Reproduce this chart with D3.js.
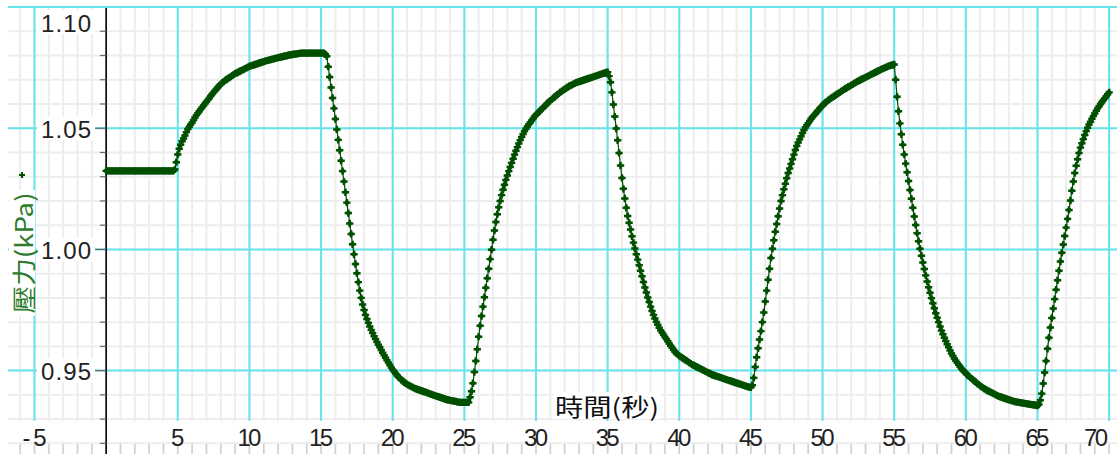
<!DOCTYPE html>
<html>
<head>
<meta charset="utf-8">
<script src="https://cdn.jsdelivr.net/npm/d3@7"></script>
<style>
body { margin: 0; background: #fff; overflow: hidden; }
</style>
</head>
<body>
<div id="chart"></div>
<script>
// sampled every 0.1 s starting at t = 0
var t0 = 0, dt = 0.1;

var baseline = [1.0324,1.0324,1.0324,1.0324,1.0324,1.0324,1.0324,1.0324,1.0324,1.0324,
  1.0324,1.0324,1.0324,1.0324,1.0324,1.0324,1.0324,1.0324,1.0324,1.0324,
  1.0324,1.0324,1.0324,1.0324,1.0324,1.0324,1.0324,1.0324,1.0324,1.0324,
  1.0324,1.0324,1.0324,1.0324,1.0324,1.0324,1.0324,1.0324,1.0324,1.0324,
  1.0324,1.0324,1.0324,1.0324,1.0324,1.0324,1.0324,1.0324];
var rise1 = [1.0330,1.0360,1.0392,1.0415,1.0432,1.0446,1.0458,1.0470,1.0484,1.0497,1.0506,1.0515,
  1.0524,1.0534,1.0544,1.0554,1.0562,1.0570,1.0578,1.0586,1.0594,1.0602,1.0609,
  1.0617,1.0625,1.0633,1.0641,1.0648,1.0655,1.0662,1.0669,1.0676,
  1.0682,1.0687,1.0692,1.0697,1.0701,1.0705,1.0709,1.0713,1.0717,1.0721,
  1.0725,1.0728,1.0731,1.0734,1.0737,1.0740,1.0743,1.0746,1.0749,1.0752,
  1.0755,1.0757,1.0759,1.0761,1.0763,1.0765,1.0767,1.0769,1.0771,1.0773,
  1.0775,1.0777,1.0779,1.0780,1.0782,1.0783,1.0785,1.0786,1.0788,1.0789,
  1.0791,1.0792,1.0794,1.0795,1.0797,1.0798,1.0799,1.0801,1.0802,1.0803,
  1.0804,1.0805,1.0806,1.0807,1.0808,1.0809,
  1.0810,1.0810,1.0810,1.0810,1.0810,1.0810,1.0810,1.0810,1.0810,1.0810,
  1.0810,1.0810,1.0810,1.0810,1.0810,1.0810,1.0810,1.0805];
var fall1 = [1.0797,1.0754,1.0711,1.0668,1.0625,1.0582,
  1.0538,1.0495,1.0452,1.0409,1.0366,1.0323,1.0280,1.0236,1.0193,1.0150,
  1.0107,1.0064,1.0021,0.9980,0.9940,0.9902,0.9865,0.9830,0.9800,0.9773,
  0.9750,0.9730,0.9713,0.9697,0.9682,0.9668,0.9655,0.9642,0.9630,0.9618,
  0.9607,0.9596,0.9585,0.9574,0.9563,0.9553,0.9543,0.9533,0.9523,0.9513,
  0.9504,0.9496,0.9488,0.9481,0.9474,0.9468,0.9462,0.9457,0.9452,0.9448,
  0.9444,0.9440,0.9437,0.9434,0.9431,0.9428,0.9425,0.9423,0.9421,0.9419,
  0.9417,0.9415,0.9413,0.9411,0.9409,0.9406,0.9404,0.9402,0.9400,0.9398,
  0.9396,0.9394,0.9392,0.9390,0.9388,0.9386,0.9384,0.9382,0.9380,0.9379,
  0.9377,0.9376,0.9375,0.9374,0.9373,0.9371,0.9370,0.9369,0.9369,0.9369,
  0.9369,0.9369,0.9369,0.9369];
var rise2 = [0.9390,0.9415,0.9448,0.9494,0.9540,0.9588,
  0.9640,0.9685,0.9725,0.9764,0.9803,0.9842,0.9881,0.9920,0.9960,0.9999,
  1.0040,1.0078,1.0113,1.0145,1.0174,1.0200,1.0224,1.0246,1.0267,1.0287,
  1.0305,1.0323,1.0340,1.0357,1.0374,1.0391,1.0407,1.0422,1.0437,1.0451,
  1.0464,1.0476,1.0488,1.0498,1.0507,1.0516,1.0524,1.0532,1.0540,1.0548,
  1.0555,1.0561,1.0567,1.0573,1.0579,1.0585,1.0591,1.0597,1.0603,1.0609,
  1.0614,1.0619,1.0624,1.0629,1.0634,1.0639,1.0644,1.0649,1.0653,1.0657,
  1.0661,1.0665,1.0669,1.0673,1.0676,1.0679,1.0682,1.0685,1.0688,1.0690,
  1.0692,1.0694,1.0696,1.0698,1.0700,1.0702,1.0704,1.0706,1.0708,1.0710,
  1.0712,1.0714,1.0716,1.0718,1.0720,1.0722,1.0724,1.0726,1.0728,1.0730,
  1.0731];
var fall2 = [1.0715,1.0690,1.0648,1.0598,1.0548,1.0499,1.0450,1.0398,1.0346,
  1.0295,1.0250,1.0210,1.0172,1.0138,1.0110,1.0082,1.0054,1.0028,1.0004,
  0.9980,0.9958,0.9935,0.9912,0.9889,0.9866,0.9843,0.9822,0.9802,0.9783,
  0.9764,0.9746,0.9730,0.9715,0.9701,0.9689,0.9677,0.9666,0.9657,0.9648,
  0.9639,0.9630,0.9621,0.9612,0.9603,0.9594,0.9586,0.9578,0.9571,0.9566,
  0.9561,0.9557,0.9553,0.9549,0.9545,0.9541,0.9537,0.9533,0.9529,0.9525,
  0.9522,0.9519,0.9516,0.9513,0.9510,0.9507,0.9504,0.9501,0.9498,0.9495,
  0.9492,0.9489,0.9486,0.9483,0.9481,0.9479,0.9477,0.9475,0.9473,0.9471,
  0.9469,0.9467,0.9465,0.9463,0.9461,0.9459,0.9457,0.9455,0.9453,0.9451,
  0.9449,0.9447,0.9445,0.9443,0.9441,0.9439,0.9437,0.9435,0.9433,0.9432,
  0.9431];
var rise3 = [0.9440,0.9470,0.9515,0.9555,0.9592,0.9628,0.9663,0.9700,0.9740,
  0.9785,0.9830,0.9875,0.9920,0.9965,1.0003,1.0038,1.0073,1.0105,1.0137,
  1.0169,1.0200,1.0224,1.0248,1.0271,1.0294,1.0315,1.0334,1.0353,1.0372,
  1.0391,1.0410,1.0427,1.0441,1.0454,1.0467,1.0480,1.0493,1.0503,1.0512,
  1.0521,1.0530,1.0539,1.0546,1.0553,1.0560,1.0567,1.0574,1.0581,1.0588,
  1.0594,1.0600,1.0606,1.0611,1.0616,1.0620,1.0624,1.0628,1.0632,1.0636,
  1.0640,1.0644,1.0648,1.0652,1.0656,1.0660,1.0664,1.0667,1.0671,1.0674,
  1.0678,1.0681,1.0685,1.0688,1.0692,1.0695,1.0698,1.0701,1.0704,1.0707,
  1.0710,1.0713,1.0716,1.0719,1.0722,1.0725,1.0728,1.0731,1.0734,1.0737,
  1.0740,1.0743,1.0746,1.0748,1.0751,1.0753,1.0756,1.0758,1.0760,1.0762,
  1.0763];
var fall3 = [1.0700,1.0630,1.0570,1.0520,1.0475,1.0432,1.0392,1.0354,1.0318,
  1.0282,1.0245,1.0209,1.0172,1.0136,1.0101,1.0067,1.0034,1.0003,0.9974,
  0.9946,0.9919,0.9893,0.9868,0.9844,0.9821,0.9799,0.9778,0.9757,0.9737,
  0.9718,0.9700,0.9682,0.9665,0.9650,0.9636,0.9622,0.9609,0.9596,0.9583,
  0.9571,0.9560,0.9550,0.9541,0.9532,0.9524,0.9516,0.9508,0.9501,0.9495,
  0.9489,0.9483,0.9477,0.9472,0.9467,0.9462,0.9457,0.9452,0.9447,0.9442,
  0.9437,0.9433,0.9429,0.9425,0.9421,0.9418,0.9415,0.9412,0.9409,0.9406,
  0.9403,0.9400,0.9397,0.9394,0.9392,0.9390,0.9388,0.9386,0.9384,0.9382,
  0.9380,0.9378,0.9376,0.9374,0.9372,0.9371,0.9370,0.9369,0.9368,0.9367,
  0.9366,0.9365,0.9364,0.9363,0.9362,0.9361,0.9360,0.9359,0.9358,0.9357,
  0.9356,0.9360];
var rise4 = [0.9378,0.9405,0.9447,0.9492,0.9540,0.9590,0.9636,0.9678,
  0.9717,0.9756,0.9795,0.9834,0.9873,0.9912,0.9950,0.9986,1.0020,1.0055,
  1.0090,1.0126,1.0163,1.0202,1.0242,1.0280,1.0315,1.0345,1.0372,1.0398,
  1.0420,1.0438,1.0455,1.0472,1.0488,1.0502,1.0515,1.0527,1.0539,1.0550,
  1.0561,1.0572,1.0582,1.0591,1.0600,1.0608,1.0616,1.0624,1.0632,1.0640,
  1.0648];

var xTicks = [-5, 5, 10, 15, 20, 25, 30, 35, 40, 45, 50, 55, 60, 65, 70];
var yTicks = [0.95, 1.00, 1.05, 1.10];
var xTitle = "時間(秒)";
var yTitle = "壓力(kPa)";

var pressure = [].concat(baseline, rise1, fall1, rise2, fall2, rise3, fall3, rise4);
var data = pressure.map(function(v, i) { return {t: t0 + i * dt, v: v}; });

var width = 1117, height = 454;
var svg = d3.select("#chart").append("svg")
  .attr("width", width).attr("height", height)
  .style("display", "block");

var x = d3.scaleLinear().domain([-6.85, 70.55]).range([8, 1117]);
var y = d3.scaleLinear().domain([0.9156, 1.0996]).range([454, 8]);

var tickFont = "'Liberation Sans', Arial, sans-serif";
var cjkFont = "'Noto Sans CJK TC', 'Noto Sans CJK SC', sans-serif";
var cyan = "#66e4ec", minor = "#ededed", green = "#005000";

// minor grid, 1 s and 0.01 kPa
var gx = d3.range(-6, 71, 1), gy = d3.range(92, 110, 1).map(function(d) { return d / 100; });
svg.append("g").selectAll("line").data(gx).join("line")
  .attr("x1", function(d) { return x(d); }).attr("x2", function(d) { return x(d); })
  .attr("y1", 8).attr("y2", height)
  .attr("stroke", minor).attr("stroke-width", 2);
svg.append("g").selectAll("line").data(gy).join("line")
  .attr("x1", 8).attr("x2", width)
  .attr("y1", function(d) { return y(d); }).attr("y2", function(d) { return y(d); })
  .attr("stroke", minor).attr("stroke-width", 2);

// major grid
svg.append("g").selectAll("line").data(xTicks).join("line")
  .attr("x1", function(d) { return x(d); }).attr("x2", function(d) { return x(d); })
  .attr("y1", 8).attr("y2", 422)
  .attr("stroke", cyan).attr("stroke-width", 2);
svg.append("g").selectAll("line").data(yTicks).join("line")
  .attr("x1", 8).attr("x2", width)
  .attr("y1", function(d) { return y(d); }).attr("y2", function(d) { return y(d); })
  .attr("stroke", cyan).attr("stroke-width", 2);

// band behind the time labels
svg.append("rect").attr("x", 0).attr("y", 421).attr("width", width).attr("height", 20.5)
  .attr("fill", "#fff");

// bottom tick marks
svg.append("g").selectAll("line").data(gx).join("line")
  .attr("x1", function(d) { return x(d); }).attr("x2", function(d) { return x(d); })
  .attr("y1", 444).attr("y2", height)
  .attr("stroke", "#d0d0d0").attr("stroke-width", 1.5);

// x tick labels (kept inside the right edge)
var xl = svg.append("g");
xTicks.forEach(function(d) {
  var s = String(d);
  xl.append("text")
    .attr("x", Math.min(x(d), width - 21)).attr("y", 437)
    .attr("text-anchor", "middle").attr("dominant-baseline", "central")
    .attr("font-family", tickFont).attr("font-size", 24)
    .attr("fill", "#222")
    .attr("textLength", s.length * 12).attr("lengthAdjust", "spacing")
    .text(s);
});

// y tick labels with white boxes
var yl = svg.append("g");
yTicks.forEach(function(d) {
  var cy = Math.max(y(d), 22);
  yl.append("rect").attr("x", 37).attr("y", cy - 12).attr("width", 58).attr("height", 24)
    .attr("fill", "#fff");
  yl.append("text")
    .attr("x", 91).attr("y", cy + 1)
    .attr("text-anchor", "end").attr("dominant-baseline", "central")
    .attr("font-family", tickFont).attr("font-size", 24)
    .attr("fill", "#222")
    .attr("textLength", 50).attr("lengthAdjust", "spacing")
    .text(d.toFixed(2));
});

// y axis line and ticks
svg.append("line").attr("x1", x(0)).attr("x2", x(0)).attr("y1", 8).attr("y2", height)
  .attr("stroke", "#000").attr("stroke-width", 1.6);
svg.append("g").selectAll("line").data(gy).join("line")
  .attr("x1", function(d) { return Math.abs(d * 20 - Math.round(d * 20)) < 1e-6 ? x(0) - 11 : x(0) - 6; })
  .attr("x2", x(0))
  .attr("y1", function(d) { return y(d); }).attr("y2", function(d) { return y(d); })
  .attr("stroke", "#666").attr("stroke-width", 1.2);

// axis titles
svg.append("rect").attr("x", 553).attr("y", 392).attr("width", 108).attr("height", 27).attr("fill", "#fff");
svg.append("text")
  .attr("x", 607).attr("y", 405)
  .attr("text-anchor", "middle").attr("dominant-baseline", "central")
  .attr("font-family", cjkFont).attr("font-size", 24).attr("fill", "#111")
  .attr("textLength", 104).attr("lengthAdjust", "spacingAndGlyphs")
  .text(xTitle);

svg.append("rect").attr("x", 9).attr("y", 190).attr("width", 26).attr("height", 126).attr("fill", "#fff");
svg.append("text")
  .attr("transform", "translate(22,253) rotate(-90)")
  .attr("text-anchor", "middle").attr("dominant-baseline", "central")
  .attr("font-family", cjkFont).attr("font-size", 24).attr("fill", "#2e7b2e")
  .attr("textLength", 121).attr("lengthAdjust", "spacingAndGlyphs")
  .text(yTitle);

// series: thin line through round-ish cross markers
var line = d3.line().x(function(d) { return x(d.t); }).y(function(d) { return y(d.v); });
svg.append("path").datum(data)
  .attr("d", line).attr("fill", "none")
  .attr("stroke", green).attr("stroke-width", 1.2);

var sym = d3.symbol().type(d3.symbolCross).size(30);
var marks = svg.append("g").selectAll("g").data(data).join("g")
  .attr("transform", function(d) { return "translate(" + x(d.t) + "," + y(d.v) + ")"; });
marks.append("path").attr("d", sym).attr("fill", green);
marks.append("circle").attr("r", 2.3).attr("fill", green);

// legend marker beside the y title
var lg = svg.append("g").attr("transform", "translate(22,175)");
lg.append("path").attr("d", d3.symbol().type(d3.symbolCross).size(20)).attr("fill", green);
lg.append("circle").attr("r", 1.8).attr("fill", green);
</script>
</body>
</html>
